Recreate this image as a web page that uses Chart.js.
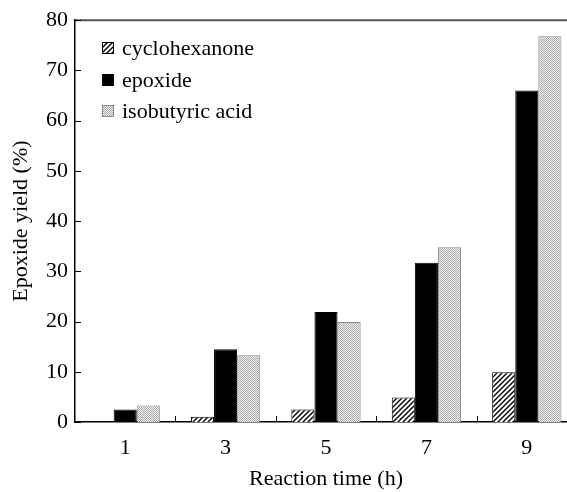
<!DOCTYPE html>
<html>
<head>
<meta charset="utf-8">
<script src="https://cdn.jsdelivr.net/npm/chart.js@4"></script>
<style>
  html, body { margin: 0; padding: 0; background: #fff; overflow: hidden; }
  #wrap { width: 567px; height: 492px; overflow: hidden; }
</style>
</head>
<body>
<div id="wrap"><canvas id="yieldChart" width="580" height="492"></canvas></div>
<script>
"use strict";

// Reaction time (h)
const times = ["1", "3", "5", "7", "9"];

// Yields (%)
const cyclohexanone = [0, 1.05, 2.5, 4.9, 9.9];
const epoxide = [2.5, 14.5, 21.9, 31.7, 66.0];
const isobutyricAcid = [3.3, 13.3, 19.9, 34.8, 76.8];

const FONT = "'Liberation Serif', 'Times New Roman', serif";
const FONT_SIZE = 22;

// Diagonal hatch fill
function hatchPattern() {
  const s = 5;
  const c = document.createElement("canvas");
  c.width = s;
  c.height = s;
  const g = c.getContext("2d");
  g.fillStyle = "#fff";
  g.fillRect(0, 0, s, s);
  g.strokeStyle = "#000";
  g.lineWidth = 1.4;
  g.beginPath();
  g.moveTo(0, s);
  g.lineTo(s, 0);
  g.moveTo(-1, 1);
  g.lineTo(1, -1);
  g.moveTo(s - 1, s + 1);
  g.lineTo(s + 1, s - 1);
  g.stroke();
  return g.createPattern(c, "repeat");
}

// Fine grey stipple fill
function stipplePattern() {
  const c = document.createElement("canvas");
  c.width = 2;
  c.height = 2;
  const g = c.getContext("2d");
  g.fillStyle = "#f4f4f4";
  g.fillRect(0, 0, 2, 2);
  g.fillStyle = "#a8a8a8";
  g.fillRect(0, 0, 1, 1);
  g.fillRect(1, 1, 1, 1);
  return g.createPattern(c, "repeat");
}

// Inward tick marks, top frame line and the legend
const frameAndLegend = {
  id: "frameAndLegend",
  afterDraw(chart) {
    const ctx = chart.ctx;
    const area = chart.chartArea;
    const x = chart.scales.x;
    const y = chart.scales.y;
    ctx.save();

    // top frame
    ctx.strokeStyle = "#555";
    ctx.lineWidth = 2;
    ctx.beginPath();
    ctx.moveTo(area.left, area.top);
    ctx.lineTo(area.right + 10, area.top);
    ctx.stroke();

    // y ticks
    ctx.strokeStyle = "#000";
    ctx.lineWidth = 1;
    ctx.beginPath();
    y.ticks.forEach((t) => {
      const py = Math.round(y.getPixelForValue(t.value)) + 0.5;
      ctx.moveTo(area.left, py);
      ctx.lineTo(area.left + 6, py);
    });
    // x ticks between categories
    for (let i = 1; i < times.length; i++) {
      const px = Math.round((x.getPixelForTick(i - 1) + x.getPixelForTick(i)) / 2) + 0.5;
      ctx.moveTo(px, area.bottom);
      ctx.lineTo(px, area.bottom - 6);
    }
    ctx.stroke();

    // legend
    ctx.font = FONT_SIZE + "px " + FONT;
    ctx.textBaseline = "middle";
    ctx.fillStyle = "#000";
    const rows = [48, 80, 111];
    chart.data.datasets.forEach((ds, i) => {
      const cy = rows[i];
      ctx.fillStyle = ds.backgroundColor;
      ctx.fillRect(102, cy - 6, 12, 12);
      ctx.strokeStyle = ds.borderColor;
      ctx.lineWidth = 1;
      ctx.strokeRect(102.5, cy - 5.5, 11, 11);
      ctx.fillStyle = "#000";
      ctx.fillText(ds.label, 122, cy + 1);
    });
    ctx.restore();
  },
};

const ctx = document.getElementById("yieldChart").getContext("2d");

new Chart(ctx, {
  type: "bar",
  data: {
    labels: times,
    datasets: [
      {
        label: "cyclohexanone",
        data: cyclohexanone,
        backgroundColor: hatchPattern(),
        borderColor: "#000",
        borderWidth: 1,
      },
      {
        label: "epoxide",
        data: epoxide,
        backgroundColor: "#000",
        borderColor: "#000",
        borderWidth: 1,
      },
      {
        label: "isobutyric acid",
        data: isobutyricAcid,
        backgroundColor: stipplePattern(),
        borderColor: "#8a8a8a",
        borderWidth: 1,
      },
    ],
  },
  options: {
    responsive: false,
    devicePixelRatio: 1,
    animation: false,
    layout: {
      padding: { top: 19, right: 3, left: 0, bottom: 0 },
    },
    plugins: {
      legend: { display: false },
      tooltip: { enabled: false },
    },
    datasets: {
      bar: {
        barPercentage: 1,
        categoryPercentage: 0.69,
      },
    },
    scales: {
      x: {
        grid: { display: false, drawTicks: false },
        border: { color: "#000", width: 1.5 },
        ticks: {
          color: "#000",
          padding: 13,
          font: { family: FONT, size: FONT_SIZE },
        },
        title: {
          display: true,
          text: "Reaction time (h)",
          color: "#000",
          padding: { top: 6, bottom: 0 },
          font: { family: FONT, size: FONT_SIZE },
        },
        afterFit: (s) => {
          s.height = 70;
        },
      },
      y: {
        min: 0,
        max: 80,
        grid: { display: false, drawTicks: false },
        border: { color: "#000", width: 1.5 },
        ticks: {
          stepSize: 10,
          color: "#000",
          padding: 7,
          font: { family: FONT, size: FONT_SIZE },
        },
        title: {
          display: true,
          text: "Epoxide yield (%)",
          color: "#000",
          padding: { top: 8, bottom: 0 },
          font: { family: FONT, size: FONT_SIZE },
        },
        afterFit: (s) => {
          s.width = 75;
        },
      },
    },
  },
  plugins: [frameAndLegend],
});
</script>
</body>
</html>
